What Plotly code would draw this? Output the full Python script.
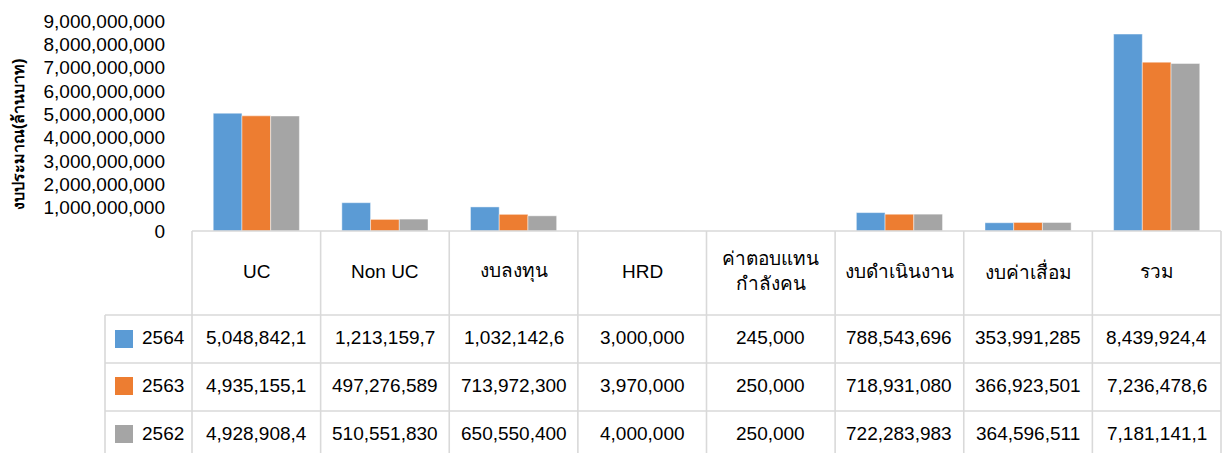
import plotly.graph_objects as go

categories = ["UC", "Non UC", "งบลงทุน", "HRD", "ค่าตอบแทน<br>กำลังคน",
              "งบดำเนินงาน", "งบค่าเสื่อม", "รวม"]
series_names = ["2564", "2563", "2562"]
values_2564 = [5048842150, 1213159700, 1032142600, 3000000, 245000,
               788543696, 353991285, 8439924400]
values_2563 = [4935155100, 497276589, 713972300, 3970000, 250000,
               718931080, 366923501, 7236478600]
values_2562 = [4928908400, 510551830, 650550400, 4000000, 250000,
               722283983, 364596511, 7181141100]
colors = ["#5B9BD5", "#ED7D31", "#A5A5A5"]
y_ticks = [0, 1e9, 2e9, 3e9, 4e9, 5e9, 6e9, 7e9, 8e9, 9e9]
y_title = "งบประมาณ(ล้านบาท)"

all_values = [values_2564, values_2563, values_2562]

W, H = 1225, 453
L, R, T, B = 192, 1221, 21, 231
pw, ph = R - L, B - T

def px(xpix):
    return (xpix - L) / pw

def py(ypix):
    return (B - ypix) / ph

FONT = "Tahoma, 'Liberation Sans', 'Noto Sans', sans-serif"
FS = 19

fig = go.Figure()
for name, vals, col in zip(series_names, all_values, colors):
    fig.add_trace(go.Bar(x=categories, y=vals, name=name, marker_color=col,
                         marker_line=dict(color="rgba(255,255,255,0.45)", width=1)))

fig.update_layout(
    width=W, height=H,
    margin=dict(l=L, r=W - R, t=T, b=H - B, pad=0),
    paper_bgcolor="white", plot_bgcolor="white",
    barmode="group", bargap=0.33, bargroupgap=0,
    showlegend=False,
    font=dict(family=FONT, color="#000000", size=FS),
    xaxis=dict(showticklabels=False, showline=False, showgrid=False,
               zeroline=False, ticks="", range=[-0.5, len(categories) - 0.5]),
    yaxis=dict(range=[0, 9e9], tickvals=y_ticks, tickformat=",d",
               showgrid=False, zeroline=False, showline=False, ticks="",
               ticklabelstandoff=26, tickfont=dict(size=FS, color="#000000")),
)

shapes = []
LINE = dict(color="#D9D9D9", width=1.6)
y_top, y_head, y_r1, y_r2, y_bot = 231, 315, 363, 411, 470
x_lab = 105
shapes.append(dict(type="line", xref="paper", yref="paper", x0=px(L), x1=px(R),
                   y0=py(y_top), y1=py(y_top), line=LINE))
for yy in (y_head, y_r1, y_r2):
    shapes.append(dict(type="line", xref="paper", yref="paper", x0=px(x_lab), x1=px(R),
                       y0=py(yy), y1=py(yy), line=LINE))
n = len(categories)
for i in range(n + 1):
    xb = L + pw * i / n
    shapes.append(dict(type="line", xref="paper", yref="paper", x0=px(xb), x1=px(xb),
                       y0=py(y_top), y1=py(y_bot), line=LINE))
shapes.append(dict(type="line", xref="paper", yref="paper", x0=px(x_lab), x1=px(x_lab),
                   y0=py(y_head), y1=py(y_bot), line=LINE))

annotations = []
for c in categories:
    annotations.append(dict(x=c, xref="x", y=py(271), yref="paper", text=c,
                            showarrow=False, xanchor="center", yanchor="middle",
                            font=dict(size=FS)))
row_centers = [337, 385, 433]
sq = [(330, 348), (377, 395), (425, 443)]
for name, vals, col, yc, (s0, s1) in zip(series_names, all_values, colors, row_centers, sq):
    shapes.append(dict(type="rect", xref="paper", yref="paper", x0=px(115), x1=px(133),
                       y0=py(s1), y1=py(s0), fillcolor=col, line=dict(width=0)))
    annotations.append(dict(x=px(163), xref="paper", y=py(yc), yref="paper", text=name,
                            showarrow=False, xanchor="center", yanchor="middle",
                            font=dict(size=FS)))
    for c, v in zip(categories, vals):
        annotations.append(dict(x=c, xref="x", y=py(yc), yref="paper",
                                text=f"{v:,}"[:11], showarrow=False,
                                xanchor="center", yanchor="middle", font=dict(size=FS)))
annotations.append(dict(x=px(18), xref="paper", y=py(134), yref="paper", text=f"<b>{y_title}</b>",
                        textangle=-90, showarrow=False, xanchor="center", yanchor="middle",
                        font=dict(size=16)))
fig.update_layout(shapes=shapes, annotations=annotations)

fig.write_html("out.html", config={"displayModeBar": False},
               post_script="document.body.style.margin='0';document.body.style.overflow='hidden';")
